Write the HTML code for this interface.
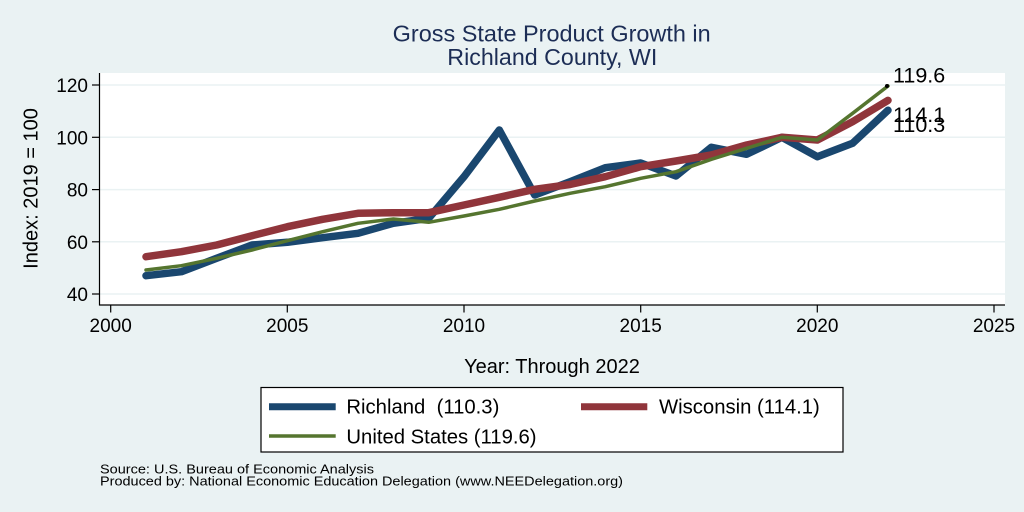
<!DOCTYPE html>
<html>
<head>
<meta charset="utf-8">
<style>
  html,body{margin:0;padding:0;background:#eaf2f3;}
  svg{display:block;}
  text{font-family:"Liberation Sans", Arial, Helvetica, sans-serif;}
</style>
</head>
<body>
<svg width="1024" height="512" viewBox="0 0 1024 512" xmlns="http://www.w3.org/2000/svg">
  <rect x="0" y="0" width="1024" height="512" fill="#eaf2f3"/>
  <!-- plot region -->
  <rect x="100" y="73" width="905" height="232" fill="#ffffff"/>
  <!-- gridlines -->
  <g stroke="#eaf2f3" stroke-width="1.5">
    <line x1="100" y1="85" x2="1005" y2="85"/>
    <line x1="100" y1="137.3" x2="1005" y2="137.3"/>
    <line x1="100" y1="189.6" x2="1005" y2="189.6"/>
    <line x1="100" y1="241.8" x2="1005" y2="241.8"/>
    <line x1="100" y1="294" x2="1005" y2="294"/>
  </g>
  <!-- axes -->
  <g stroke="#000" stroke-width="1.2" fill="none">
    <line x1="99.5" y1="73" x2="99.5" y2="305.5"/>
    <line x1="99" y1="305" x2="1005" y2="305"/>
    <line x1="92" y1="85" x2="99.5" y2="85"/>
    <line x1="92" y1="137.3" x2="99.5" y2="137.3"/>
    <line x1="92" y1="189.6" x2="99.5" y2="189.6"/>
    <line x1="92" y1="241.8" x2="99.5" y2="241.8"/>
    <line x1="92" y1="294" x2="99.5" y2="294"/>
    <line x1="110.7" y1="305" x2="110.7" y2="312.5"/>
    <line x1="287.3" y1="305" x2="287.3" y2="312.5"/>
    <line x1="464" y1="305" x2="464" y2="312.5"/>
    <line x1="640.7" y1="305" x2="640.7" y2="312.5"/>
    <line x1="817.3" y1="305" x2="817.3" y2="312.5"/>
    <line x1="994" y1="305" x2="994" y2="312.5"/>
  </g>
  <!-- y tick labels -->
  <g font-size="19" fill="#000" text-anchor="end">
    <text x="88" y="92">120</text>
    <text x="88" y="144.3">100</text>
    <text x="88" y="196.6">80</text>
    <text x="88" y="248.8">60</text>
    <text x="88" y="301">40</text>
  </g>
  <!-- x tick labels -->
  <g font-size="19" fill="#000" text-anchor="middle">
    <text x="110.7" y="332">2000</text>
    <text x="287.3" y="332">2005</text>
    <text x="464" y="332">2010</text>
    <text x="640.7" y="332">2015</text>
    <text x="817.3" y="332">2020</text>
    <text x="994" y="332">2025</text>
  </g>
  <!-- axis titles -->
  <text x="552" y="373" font-size="20" text-anchor="middle" fill="#000">Year: Through 2022</text>
  <text transform="translate(37.5,188.5) rotate(-90)" font-size="20" text-anchor="middle" fill="#000">Index: 2019 = 100</text>
  <!-- title -->
  <g font-size="23" fill="#1c2d55">
    <text x="392.7" y="41.7" textLength="318" lengthAdjust="spacingAndGlyphs">Gross State Product Growth in</text>
    <text x="447.3" y="65" textLength="210" lengthAdjust="spacingAndGlyphs">Richland County, WI</text>
  </g>
  <!-- series -->
  <g fill="none" stroke-linejoin="round" stroke-linecap="round">
    <polyline stroke="#1a476f" stroke-width="7.5" points="146.0,275.7 181.4,271.7 216.7,258.3 252.0,245 287.4,242.3 322.7,237.7 358.0,233.3 393.3,223.3 428.7,218.3 464.0,176.7 499.3,130 534.7,195 570.0,181.7 605.3,167.7 640.7,163 676.0,176 711.3,147.3 746.6,154.3 782.0,137.3 817.3,156.7 852.6,143.3 888.0,110.3"/>
    <polyline stroke="#90353b" stroke-width="7.5" points="146.0,256.7 181.4,251.7 216.7,245 252.0,235.7 287.4,226.7 322.7,219.3 358.0,213.3 393.3,212.7 428.7,212.7 464.0,205 499.3,197.3 534.7,189.3 570.0,184.5 605.3,176.7 640.7,166.7 676.0,161 711.3,155 746.6,145 782.0,137.3 817.3,140 852.6,121.7 888.0,100.4"/>
    <polyline stroke="#55752f" stroke-width="3.5" points="146.0,270 181.4,265.7 216.7,258.3 252.0,250 287.4,240.7 322.7,231.7 358.0,223.3 393.3,219 428.7,222.3 464.0,216 499.3,209.3 534.7,201 570.0,193.3 605.3,186.7 640.7,178.3 676.0,171.7 711.3,159.3 746.6,148.3 782.0,137.3 817.3,140 852.6,113.3 888.0,86"/>
  </g>
  <circle cx="887" cy="86" r="2" fill="#000"/>
  <!-- end labels -->
  <g font-size="21.5" fill="#000">
    <text x="893" y="82.5">119.6</text>
    <text x="893" y="122">114.1</text>
    <text x="893" y="132">110.3</text>
  </g>
  <!-- legend -->
  <rect x="261" y="387.5" width="582" height="64.5" fill="#ffffff" stroke="#000" stroke-width="1.2"/>
  <line x1="269" y1="406.7" x2="335.7" y2="406.7" stroke="#1a476f" stroke-width="7"/>
  <line x1="581" y1="406.7" x2="647.3" y2="406.7" stroke="#90353b" stroke-width="7"/>
  <line x1="269" y1="436" x2="335.7" y2="436" stroke="#55752f" stroke-width="3.5"/>
  <g font-size="20.3" fill="#000">
    <text x="346.4" y="413.5" xml:space="preserve">Richland  (110.3)</text>
    <text x="659" y="413.5">Wisconsin (114.1)</text>
    <text x="346.4" y="443.5">United States (119.6)</text>
  </g>
  <!-- footer -->
  <g font-size="13" fill="#000">
    <text x="100" y="473.5" textLength="274" lengthAdjust="spacingAndGlyphs">Source: U.S. Bureau of Economic Analysis</text>
    <text x="100" y="485.5" textLength="523" lengthAdjust="spacingAndGlyphs">Produced by: National Economic Education Delegation (www.NEEDelegation.org)</text>
  </g>
</svg>
</body>
</html>
